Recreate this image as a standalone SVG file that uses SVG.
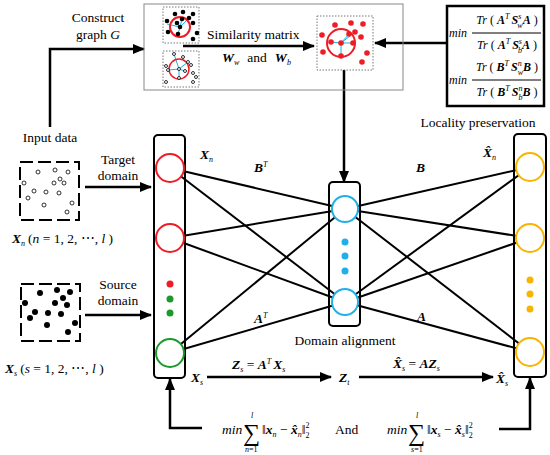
<svg xmlns="http://www.w3.org/2000/svg" width="550" height="455" viewBox="0 0 550 455" font-family="'Liberation Serif', 'Times New Roman', 'DejaVu Serif', serif">
<defs>
<marker id="ah" markerUnits="userSpaceOnUse" markerWidth="12" markerHeight="10" refX="11" refY="5" orient="auto"><path d="M0,0 L12,5 L0,10 z" fill="#000"/></marker>
<style>
text{font-family:'Liberation Serif','Times New Roman','DejaVu Serif',serif;font-size:13.5px;fill:#000}
.m{font-style:italic;font-weight:bold}
.i{font-style:italic}
.s{font-size:8px}
.f{font-size:12px}
.big{font-size:24px}
.ln{stroke:#000;stroke-width:2;fill:none}
.ar{stroke:#000;stroke-width:2.5;fill:none;marker-end:url(#ah)}
.col{fill:none;stroke:#000;stroke-width:2}
.cr{fill:#fff;stroke:#ee1c25;stroke-width:2}
.cg{fill:#fff;stroke:#1a9a2a;stroke-width:2}
.cc{fill:#fff;stroke:#1fb0e8;stroke-width:2}
.co{fill:#fff;stroke:#f7b500;stroke-width:2}
.bd{fill:#000}
.od{fill:#fff;stroke:#000;stroke-width:0.8}
.rd{fill:#ee1c25}
.cy{stroke:#1fb0e8;stroke-width:1}
.dash{fill:none;stroke:#000;stroke-width:2;stroke-dasharray:13 5}
.dot{fill:none;stroke:#555;stroke-width:0.8;stroke-dasharray:1.5 1.5}
</style>
</defs>
<rect width="550" height="455" fill="#fff"/>

<g id="connectors">
<g class="ln">
<line x1="170" y1="168" x2="345" y2="209"/>
<line x1="170" y1="168" x2="345" y2="302"/>
<line x1="170" y1="238" x2="345" y2="209"/>
<line x1="170" y1="238" x2="345" y2="302"/>
<line x1="170" y1="353" x2="345" y2="209"/>
<line x1="170" y1="353" x2="345" y2="302"/>
<line x1="345" y1="209" x2="530" y2="167"/>
<line x1="345" y1="209" x2="530" y2="238"/>
<line x1="345" y1="209" x2="530" y2="352"/>
<line x1="345" y1="302" x2="530" y2="167"/>
<line x1="345" y1="302" x2="530" y2="238"/>
<line x1="345" y1="302" x2="530" y2="352"/>
</g>
<polyline class="ar" points="50,127 50,49 144,49"/>
<line class="ar" x1="183" y1="46" x2="314" y2="46"/>
<line class="ar" x1="447" y1="43" x2="375" y2="43"/>
<line class="ar" x1="344" y1="70" x2="344" y2="182"/>
<line class="ar" x1="85" y1="187" x2="151" y2="187"/>
<line class="ar" x1="85" y1="315" x2="151" y2="315"/>
<line class="ar" x1="207" y1="377" x2="331" y2="377"/>
<line class="ar" x1="359" y1="377" x2="493" y2="377"/>
<polyline class="ar" points="202,428 170,428 170,379"/>
<polyline class="ar" points="499,429 530,429 530,378"/>
</g>

<g id="graph-box">
<rect x="144" y="4" width="259" height="86" fill="none" stroke="#888" stroke-width="1"/>
<text x="207" y="39">Similarity matrix</text>
<text x="222" y="62"><tspan class="m">W</tspan><tspan class="i s" dy="3">w</tspan><tspan dy="-3" dx="8">and</tspan><tspan class="m" dx="8">W</tspan><tspan class="i s" dy="3">b</tspan></text>
</g>

<g id="graph-source">
<rect x="163" y="7" width="36" height="36" class="dot" fill="#fff"/>
<g class="cy">
<line x1="180" y1="27" x2="167" y2="24"/><line x1="180" y1="27" x2="182" y2="19"/><line x1="180" y1="27" x2="189" y2="18"/><line x1="180" y1="27" x2="178" y2="34"/><line x1="180" y1="27" x2="177" y2="23"/>
</g>
<circle cx="180" cy="27" r="10" fill="none" stroke="#ee1c25" stroke-width="2"/>
<g class="bd">
<circle cx="175" cy="14" r="2.3"/><circle cx="183" cy="12" r="2.3"/><circle cx="193" cy="14" r="2.3"/><circle cx="167" cy="21" r="2.3"/><circle cx="182" cy="19" r="2.3"/><circle cx="189" cy="18" r="2.3"/><circle cx="193" cy="23" r="2.3"/><circle cx="177" cy="23" r="2.3"/><circle cx="180" cy="27" r="2.3"/><circle cx="168" cy="32" r="2.3"/><circle cx="197" cy="33" r="2.3"/><circle cx="178" cy="34" r="2.3"/><circle cx="193" cy="39" r="2.3"/>
</g>
</g>

<g id="graph-target">
<rect x="163" y="51" width="36" height="36" class="dot" fill="#fff"/>
<g class="cy">
<line x1="179" y1="69" x2="174" y2="54"/><line x1="179" y1="69" x2="188" y2="62"/><line x1="179" y1="69" x2="168" y2="70"/><line x1="179" y1="69" x2="179" y2="78"/><line x1="179" y1="69" x2="185" y2="71"/>
</g>
<circle cx="179" cy="69" r="10" fill="none" stroke="#ee1c25" stroke-width="1.5"/>
<g class="od">
<circle cx="174" cy="54" r="1.5"/><circle cx="183" cy="57" r="1.5"/><circle cx="188" cy="62" r="1.5"/><circle cx="191" cy="65" r="1.5"/><circle cx="166" cy="66" r="1.5"/><circle cx="168" cy="70" r="1.5"/><circle cx="179" cy="69" r="1.5"/><circle cx="185" cy="71" r="1.5"/><circle cx="193" cy="73" r="1.5"/><circle cx="179" cy="78" r="1.5"/><circle cx="166" cy="82" r="1.5"/><circle cx="196" cy="77" r="1.5"/><circle cx="193" cy="82" r="1.5"/>
</g>
</g>

<g id="similarity">
<rect x="317" y="16" width="56" height="54" class="dot" fill="#fff"/>
<g class="cy">
<line x1="341" y1="43" x2="349" y2="34"/><line x1="341" y1="43" x2="355" y2="32"/><line x1="341" y1="43" x2="353" y2="43"/><line x1="341" y1="43" x2="331" y2="42"/><line x1="341" y1="43" x2="341" y2="56"/>
</g>
<circle cx="341" cy="43" r="14" fill="none" stroke="#ee1c25" stroke-width="2"/>
<g class="rd">
<circle cx="335" cy="25" r="2.8"/><circle cx="351" cy="23" r="2.8"/><circle cx="363" cy="24" r="2.8"/><circle cx="322" cy="35" r="2.8"/><circle cx="349" cy="34" r="2.8"/><circle cx="355" cy="32" r="2.8"/><circle cx="361" cy="37" r="2.8"/><circle cx="331" cy="42" r="2.8"/><circle cx="353" cy="43" r="2.8"/><circle cx="323" cy="52" r="2.8"/><circle cx="367" cy="53" r="2.8"/><circle cx="341" cy="56" r="2.8"/><circle cx="362" cy="62" r="2.8"/><circle cx="341" cy="43" r="2.8"/>
</g>
</g>

<g id="objective">
<rect x="447" y="6" width="97" height="100" fill="none" stroke="#000" stroke-width="2.5"/>
<text class="i f" x="449" y="37">min</text>
<text class="f" x="507" y="24" text-anchor="middle"><tspan class="i">Tr</tspan> ( <tspan class="m">A</tspan><tspan class="i s" dy="-5">T</tspan><tspan class="m" dy="5" dx="2">S</tspan><tspan class="i s" dy="-5">s</tspan><tspan class="i s" dx="-4" dy="9">w</tspan><tspan class="m" dy="-4">A</tspan> )</text>
<line x1="472" y1="33" x2="541" y2="33" stroke="#000" stroke-width="1"/>
<text class="f" x="507" y="49" text-anchor="middle"><tspan class="i">Tr</tspan> ( <tspan class="m">A</tspan><tspan class="i s" dy="-5">T</tspan><tspan class="m" dy="5" dx="2">S</tspan><tspan class="i s" dy="-5">s</tspan><tspan class="i s" dx="-4" dy="9">b</tspan><tspan class="m" dy="-4">A</tspan> )</text>
<text class="i f" x="449" y="84">min</text>
<text class="f" x="507" y="71" text-anchor="middle"><tspan class="i">Tr</tspan> ( <tspan class="m">B</tspan><tspan class="i s" dy="-5">T</tspan><tspan class="m" dy="5" dx="2">S</tspan><tspan class="i s" dy="-5">n</tspan><tspan class="i s" dx="-4" dy="9">w</tspan><tspan class="m" dy="-4">B</tspan> )</text>
<line x1="472" y1="80" x2="541" y2="80" stroke="#000" stroke-width="1"/>
<text class="f" x="507" y="96" text-anchor="middle"><tspan class="i">Tr</tspan> ( <tspan class="m">B</tspan><tspan class="i s" dy="-5">T</tspan><tspan class="m" dy="5" dx="2">S</tspan><tspan class="i s" dy="-5">n</tspan><tspan class="i s" dx="-4" dy="9">b</tspan><tspan class="m" dy="-4">B</tspan> )</text>
</g>

<g id="labels-top">
<text x="98" y="22" text-anchor="middle">Construct</text>
<text x="98" y="39" text-anchor="middle">graph <tspan class="i">G</tspan></text>
<text x="50" y="142" text-anchor="middle">Input data</text>
<text x="118" y="164" text-anchor="middle">Target</text>
<text x="118" y="180" text-anchor="middle">domain</text>
<text x="118" y="289" text-anchor="middle">Source</text>
<text x="118" y="305" text-anchor="middle">domain</text>
<text x="478" y="127" text-anchor="middle">Locality preservation</text>
</g>

<g id="target-data">
<rect x="20" y="162" width="59" height="58" class="dash"/>
<g class="od" stroke-width="1">
<circle cx="38" cy="172" r="2"/><circle cx="55" cy="170" r="2"/><circle cx="68" cy="172" r="2"/><circle cx="24" cy="183" r="2"/><circle cx="54" cy="183" r="2"/><circle cx="60" cy="179" r="2"/><circle cx="64" cy="183" r="2"/><circle cx="34" cy="191" r="2"/><circle cx="46" cy="192" r="2"/><circle cx="59" cy="193" r="2"/><circle cx="28" cy="198" r="2"/><circle cx="44" cy="205" r="2"/><circle cx="72" cy="203" r="2"/><circle cx="67" cy="212" r="2"/>
</g>
<text x="12" y="243"><tspan class="m">X</tspan><tspan class="i s" dy="3">n</tspan><tspan dy="-3" dx="3">(</tspan><tspan class="i">n</tspan> = 1, 2, ⋯, <tspan class="i">l</tspan> )</text>
</g>

<g id="source-data">
<rect x="21" y="284" width="59" height="57" class="dash"/>
<g class="bd">
<circle cx="40" cy="293" r="3"/><circle cx="57" cy="290" r="3"/><circle cx="70" cy="292" r="3"/><circle cx="25" cy="303" r="3"/><circle cx="63" cy="298" r="3"/><circle cx="55" cy="303" r="3"/><circle cx="67" cy="305" r="3"/><circle cx="35" cy="312" r="3"/><circle cx="48" cy="313" r="3"/><circle cx="61" cy="314" r="3"/><circle cx="30" cy="318" r="3"/><circle cx="47" cy="325" r="3"/><circle cx="75" cy="323" r="3"/><circle cx="68" cy="332" r="3"/>
</g>
<text x="5" y="373"><tspan class="m">X</tspan><tspan class="i s" dy="3">s</tspan><tspan dy="-3" dx="3">(</tspan><tspan class="i">s</tspan> = 1, 2, ⋯, <tspan class="i">l</tspan> )</text>
</g>

<g id="input-layer">
<rect x="154" y="135" width="31" height="243" rx="4" class="col"/>
<circle cx="170" cy="168" r="14" class="cr"/>
<circle cx="170" cy="238" r="14" class="cr"/>
<circle cx="170" cy="284" r="3.5" fill="#ee1c25"/>
<circle cx="170" cy="299" r="3.5" fill="#1a9a2a"/>
<circle cx="170" cy="313" r="3.5" fill="#1a9a2a"/>
<circle cx="170" cy="353" r="14" class="cg"/>
</g>

<g id="alignment-layer">
<rect x="329" y="182" width="31" height="144" rx="4" class="col"/>
<circle cx="345" cy="209" r="13" class="cc"/>
<circle cx="345" cy="242" r="3.5" fill="#1fb0e8"/>
<circle cx="345" cy="256" r="3.5" fill="#1fb0e8"/>
<circle cx="345" cy="271" r="3.5" fill="#1fb0e8"/>
<circle cx="345" cy="302" r="13" class="cc"/>
<text x="345" y="345" text-anchor="middle">Domain alignment</text>
</g>

<g id="output-layer">
<rect x="514" y="134" width="32" height="243" rx="4" class="col"/>
<circle cx="530" cy="167" r="14" class="co"/>
<circle cx="530" cy="238" r="14" class="co"/>
<circle cx="530" cy="280" r="3.5" fill="#f7b500"/>
<circle cx="530" cy="294" r="3.5" fill="#f7b500"/>
<circle cx="530" cy="309" r="3.5" fill="#f7b500"/>
<circle cx="530" cy="352" r="14" class="co"/>
</g>

<g id="edge-labels">
<text x="200" y="159"><tspan class="m">X</tspan><tspan class="i s" dy="3">n</tspan></text>
<text x="254" y="172"><tspan class="m">B</tspan><tspan class="i s" dy="-5">T</tspan></text>
<text x="254" y="323"><tspan class="m">A</tspan><tspan class="i s" dy="-5">T</tspan></text>
<text x="416" y="172" class="m">B</text>
<text x="417" y="321" class="m">A</text>
<text x="483" y="157"><tspan class="m">X̂</tspan><tspan class="i s" dy="3">n</tspan></text>
</g>

<g id="flow-labels">
<text x="191" y="382"><tspan class="m">X</tspan><tspan class="i s" dy="3">s</tspan></text>
<text x="232" y="369"><tspan class="m">Z</tspan><tspan class="i s" dy="3">s</tspan><tspan dy="-3"> = </tspan><tspan class="m">A</tspan><tspan class="i s" dy="-5">T</tspan><tspan class="m" dy="5" dx="2">X</tspan><tspan class="i s" dy="3">s</tspan></text>
<text x="339" y="382"><tspan class="m">Z</tspan><tspan class="i s" dy="3">t</tspan></text>
<text x="393" y="368"><tspan class="m">X̂</tspan><tspan class="i s" dy="3">s</tspan><tspan dy="-3"> = </tspan><tspan class="m">AZ</tspan><tspan class="i s" dy="3">s</tspan></text>
<text x="496" y="383"><tspan class="m">X̂</tspan><tspan class="i s" dy="3">s</tspan></text>
</g>

<g id="loss">
<text x="222" y="434" class="i">min</text>
<text x="243" y="441" class="big">∑</text>
<text x="251" y="418" class="i s">l</text>
<text x="245" y="452" class="s"><tspan class="i">n</tspan>=1</text>
<text x="262" y="434">‖<tspan class="m">x</tspan><tspan class="i s" dy="3">n</tspan><tspan dy="-3"> − </tspan><tspan class="m">x̂</tspan><tspan class="i s" dy="3">n</tspan><tspan dy="-3">‖</tspan><tspan class="s" dy="-6">2</tspan><tspan class="s" dx="-4" dy="10">2</tspan></text>
<text x="335" y="434">And</text>
<text x="387" y="434" class="i">min</text>
<text x="408" y="441" class="big">∑</text>
<text x="416" y="418" class="i s">l</text>
<text x="411" y="452" class="s"><tspan class="i">s</tspan>=1</text>
<text x="427" y="434">‖<tspan class="m">x</tspan><tspan class="i s" dy="3">s</tspan><tspan dy="-3"> − </tspan><tspan class="m">x̂</tspan><tspan class="i s" dy="3">s</tspan><tspan dy="-3">‖</tspan><tspan class="s" dy="-6">2</tspan><tspan class="s" dx="-4" dy="10">2</tspan></text>
</g>
</svg>
